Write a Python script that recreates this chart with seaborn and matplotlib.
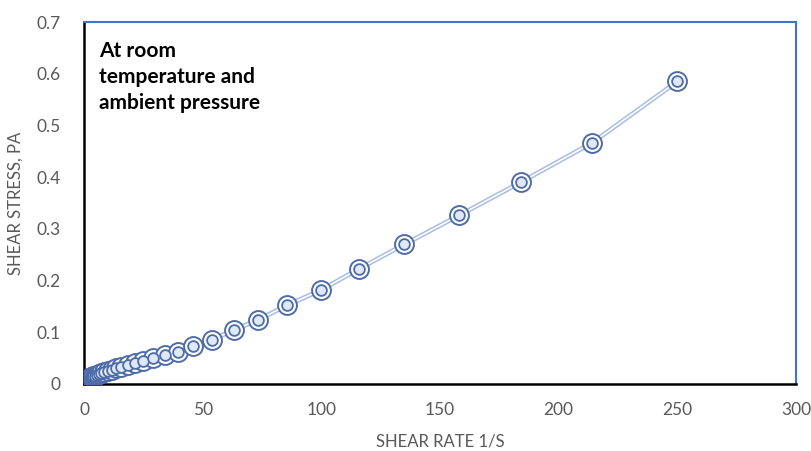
import matplotlib
matplotlib.use("Agg")
import matplotlib.pyplot as plt
import seaborn as sns
import pandas as pd

shear_rate = [2.5, 2.9, 3.4, 4.0, 4.6, 5.4, 6.3, 7.3, 8.6, 10.0, 11.6, 13.5, 15.8,
              18.4, 21.5, 25.0, 29.0, 34.0, 39.6, 46.0, 54.0, 63.0, 73.3, 85.5,
              100.0, 116.0, 135.0, 158.0, 184.0, 214.0, 250.0]
shear_stress = [0.012, 0.013, 0.014, 0.015, 0.016, 0.018, 0.019, 0.021, 0.023, 0.025,
                0.027, 0.030, 0.033, 0.036, 0.040, 0.045, 0.050, 0.056, 0.062, 0.073,
                0.086, 0.104, 0.124, 0.152, 0.182, 0.223, 0.270, 0.326, 0.390, 0.466,
                0.585]
x_ticks = [0, 50, 100, 150, 200, 250, 300]
y_ticks = [0, 0.1, 0.2, 0.3, 0.4, 0.5, 0.6, 0.7]
y_tick_labels = ["0", "0.1", "0.2", "0.3", "0.4", "0.5", "0.6", "0.7"]
annotation = "At room\ntemperature and\nambient pressure"
x_label = "SHEAR RATE 1/S"
y_label = "SHEAR STRESS, PA"

df = pd.DataFrame({"rate": shear_rate, "stress": shear_stress})

sns.set_style("white")
plt.rcParams["font.family"] = ["Lato", "DejaVu Sans"]

fig = plt.figure(figsize=(8.11, 4.51), dpi=100)
ax = fig.add_axes([84 / 811, 1 - 384 / 451, (796 - 84) / 811, (384 - 22) / 451])

dark = "#4d6ca9"
light = "#a9bde2"

sns.lineplot(data=df, x="rate", y="stress", ax=ax, color=light, lw=3.4, zorder=2)
sns.lineplot(data=df, x="rate", y="stress", ax=ax, color="white", lw=1.2, zorder=2.1)
sns.scatterplot(data=df, x="rate", y="stress", ax=ax, s=185, marker="o",
                facecolor="white", edgecolor=dark, linewidth=1.4, zorder=3)
sns.scatterplot(data=df, x="rate", y="stress", ax=ax, s=60, marker="o",
                facecolor="#e1e8f5", edgecolor=dark, linewidth=1.3, zorder=4)

ax.set_xlim(0, 300)
ax.set_ylim(0, 0.7)
ax.set_xticks(x_ticks)
ax.set_yticks(y_ticks)
ax.set_yticklabels(y_tick_labels)
ax.tick_params(axis="both", length=0, labelsize=12.5, labelcolor="#595959")
ax.tick_params(axis="y", pad=17)
ax.tick_params(axis="x", pad=13)

for side in ["left", "bottom"]:
    ax.spines[side].set_color("black")
    ax.spines[side].set_linewidth(1.8)
for side in ["top", "right"]:
    ax.spines[side].set_color("#4472c4")
    ax.spines[side].set_linewidth(1.5)

ax.set_xlabel(x_label, fontsize=12, color="#595959", labelpad=11)
ax.set_ylabel(y_label, fontsize=12, color="#595959", labelpad=9)

ax.text(0.021, 0.948, annotation, transform=ax.transAxes, fontsize=15,
        fontweight="bold", color="black", va="top", ha="left", linespacing=1.38)

fig.savefig("out.png", dpi=100)
